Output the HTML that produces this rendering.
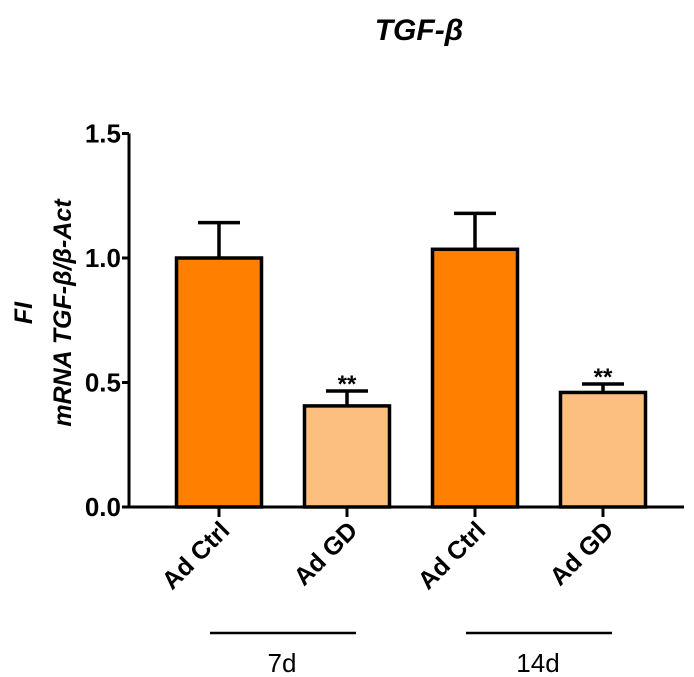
<!DOCTYPE html>
<html><head><meta charset="utf-8"><style>
body{margin:0;background:#fff;}
svg{display:block;font-family:"Liberation Sans",sans-serif;font-weight:bold;}
</style></head><body>
<svg id="chart" width="694" height="677" viewBox="0 0 694 677">
<text x="419" y="40" font-size="30" font-style="italic" text-anchor="middle">TGF-β</text>
<g transform="translate(23,313) rotate(-90)">
<text x="0" y="9" font-size="25" font-style="italic" text-anchor="middle">FI</text>
<text x="0" y="48" font-size="25" font-style="italic" text-anchor="middle">mRNA TGF-β/β-Act</text>
</g>
<g id="plot"></g>
</svg>
<script>
const categories=["Ad Ctrl","Ad GD","Ad Ctrl","Ad GD"];
const values=[1.0,0.406,1.035,0.460];
const errors=[0.142,0.060,0.144,0.034];
const colors=["#ff7f00","#fdbf7f","#ff7f00","#fdbf7f"];
const sig=["","**","","**"];
const yTicks=[0,0.5,1.0,1.5];
const yTickLabels=["0.0","0.5","1.0","1.5"];
const groups=["7d","14d"];
const NS="http://www.w3.org/2000/svg";
const g=document.getElementById('plot');
const y0=507,pxPer=249,axX=129;
const y=v=>y0-v*pxPer;
const xc=i=>219+i*128;
function mk(t,a){const e=document.createElementNS(NS,t);for(const k in a)e.setAttribute(k,a[k]);g.appendChild(e);return e;}
let e=mk('line',{x1:axX,y1:y(1.5),x2:axX,y2:y0+1.5,stroke:'#000','stroke-width':3});


e=mk('line',{x1:axX-1.5,y1:y0,x2:684,y2:y0,stroke:'#000','stroke-width':3});


yTicks.forEach((t,i)=>{
 e=mk('line',{x1:axX-7,y1:y(t),x2:axX,y2:y(t),stroke:'#000','stroke-width':3});
 
 
 e=mk('text',{x:axX-8,y:y(t)+9,'font-size':26,'text-anchor':'end'});e.textContent=yTickLabels[i];
 
 
});
values.forEach((v,i)=>{
 const c=xc(i),w=85;
 e=mk('line',{x1:c,y1:y(v),x2:c,y2:y(v+errors[i]),stroke:'#000','stroke-width':3.5});
 
 
 e=mk('line',{x1:c-21,y1:y(v+errors[i]),x2:c+21,y2:y(v+errors[i]),stroke:'#000','stroke-width':3.5});
 
 
 e=mk('rect',{x:c-w/2,y:y(v),width:w,height:y0-y(v),fill:colors[i],stroke:'#000','stroke-width':3.5});
 
 
 e=mk('line',{x1:c,y1:y0,x2:c,y2:y0+10,stroke:'#000','stroke-width':3});
 
 
 if(sig[i]){e=mk('text',{x:c,y:y(v+errors[i])+1,'font-size':24,'text-anchor':'middle'});e.textContent=sig[i];
 
 }
 e=mk('text',{x:0,y:0,'font-size':25,'text-anchor':'end',transform:`translate(${c+12},${y0+25}) rotate(-45)`});e.textContent=categories[i];
 
 
});
groups.forEach((gname,j)=>{
 const a=xc(2*j),b=xc(2*j+1),m=(a+b)/2;
 e=mk('line',{x1:m-73,y1:633,x2:m+73,y2:633,stroke:'#000','stroke-width':2.5});
 
 
 e=mk('text',{x:m-1,y:672,'font-size':26,'font-weight':'normal','text-anchor':'middle'});e.textContent=gname;
 
 
});
</script>
</body></html>
